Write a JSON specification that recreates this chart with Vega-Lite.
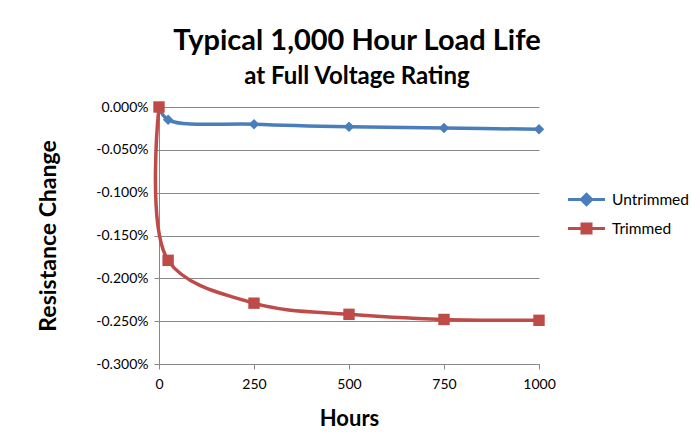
{
  "$schema": "https://vega.github.io/schema/vega-lite/v6.json",
  "width": 380,
  "height": 257,
  "autosize": {"type": "none"},
  "padding": {"left": 159, "top": 107, "right": 152, "bottom": 77},
  "background": "white",
  "config": {"view": {"stroke": null}, "font": "Lato"},
  "title": {
    "text": "Typical 1,000 Hour Load Life",
    "subtitle": "at Full Voltage Rating",
    "font": "Lato",
    "fontSize": 29,
    "fontWeight": "bold",
    "color": "black",
    "subtitleFont": "Lato",
    "subtitleFontSize": 24,
    "subtitleFontWeight": "bold",
    "subtitleColor": "black",
    "subtitlePadding": 9,
    "anchor": "middle",
    "offset": 11,
    "dx": 8
  },
  "data": {
    "values": [
      {"series": "Untrimmed", "hours": 0, "change": 0},
      {"series": "Untrimmed", "hours": 24, "change": -0.015},
      {"series": "Untrimmed", "hours": 250, "change": -0.02},
      {"series": "Untrimmed", "hours": 500, "change": -0.023},
      {"series": "Untrimmed", "hours": 750, "change": -0.0245},
      {"series": "Untrimmed", "hours": 1000, "change": -0.026},
      {"series": "Trimmed", "hours": 0, "change": 0},
      {"series": "Trimmed", "hours": 24, "change": -0.179},
      {"series": "Trimmed", "hours": 250, "change": -0.229},
      {"series": "Trimmed", "hours": 500, "change": -0.242},
      {"series": "Trimmed", "hours": 750, "change": -0.248},
      {"series": "Trimmed", "hours": 1000, "change": -0.249}
    ]
  },
  "encoding": {
    "x": {
      "field": "hours", "type": "quantitative",
      "scale": {"domain": [0, 1000], "nice": false},
      "axis": {
        "values": [0, 250, 500, 750, 1000],
        "format": "d",
        "title": "Hours",
        "titleFont": "Lato", "titleFontSize": 22, "titleFontWeight": "bold", "titleColor": "black",
        "titleY": 54, "titleBaseline": "middle",
        "labelFont": "Lato", "labelFontSize": 14, "labelColor": "black", "labelPadding": 8,
        "grid": false, "domainColor": "#888888", "tickColor": "#888888", "tickSize": 5, "labelFlush": false
      }
    },
    "y": {
      "field": "change", "type": "quantitative",
      "scale": {"domain": [-0.3, 0], "nice": false},
      "axis": {
        "values": [0, -0.05, -0.1, -0.15, -0.2, -0.25, -0.3],
        "labelExpr": "(datum.value < 0 ? '-' : '') + format(abs(datum.value), '.3f') + '%'",
        "title": "Resistance Change",
        "titleFont": "Lato", "titleFontSize": 23, "titleFontWeight": "bold", "titleColor": "black",
        "titleX": -111, "titleBaseline": "middle",
        "labelFont": "Lato", "labelFontSize": 14, "labelColor": "black", "labelPadding": 6,
        "grid": true, "gridColor": "#888888", "domainColor": "#888888", "tickColor": "#888888", "tickSize": 5
      }
    },
    "color": {
      "field": "series", "type": "nominal",
      "scale": {"domain": ["Untrimmed", "Trimmed"], "range": ["#4a7ebb", "#be4b48"]},
      "legend": {
        "title": null,
        "orient": "none",
        "legendX": 416,
        "legendY": 81,
        "labelFont": "Lato",
        "labelFontSize": 15.5,
        "labelColor": "black",
        "symbolSize": 400,
        "symbolStrokeWidth": 3,
        "rowPadding": 6,
        "labelOffset": 14,
        "encode": {
          "symbols": {
            "update": {
              "shape": {"signal": "datum.value === 'Untrimmed' ? 'M-1.85,0H1.85M0,-0.52L0.52,0L0,0.52L-0.52,0Z' : 'M-1.85,0H1.85M-0.45,-0.45H0.45V0.45H-0.45Z'"},
              "fill": {"signal": "datum.value === 'Untrimmed' ? '#4a7ebb' : '#be4b48'"},
              "stroke": {"signal": "datum.value === 'Untrimmed' ? '#4a7ebb' : '#be4b48'"},
              "strokeWidth": {"value": 3},
              "opacity": {"value": 1}
            }
          }
        }
      }
    }
  },
  "layer": [
    {
      "mark": {"type": "line", "interpolate": "catmull-rom", "strokeWidth": 3.5}
    },
    {
      "transform": [{"filter": "datum.series === 'Untrimmed'"}],
      "mark": {"type": "point", "shape": "diamond", "filled": true, "size": 110, "opacity": 1}
    },
    {
      "transform": [{"filter": "datum.series === 'Trimmed'"}],
      "mark": {"type": "point", "shape": "square", "filled": true, "size": 130, "opacity": 1}
    }
  ]
}
